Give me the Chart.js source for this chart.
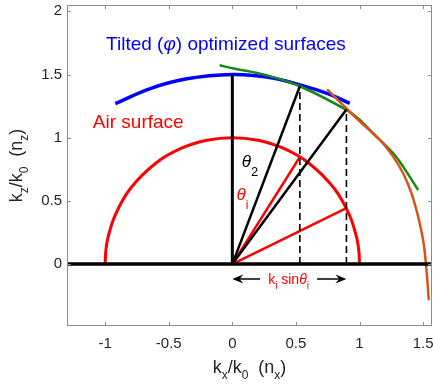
<!DOCTYPE html>
<html>
<head>
<meta charset="utf-8">
<script src="https://cdn.jsdelivr.net/npm/chart.js@4"></script>
<style>
  html, body { margin: 0; padding: 0; background: #fff; }
  #wrap { width: 433px; height: 384px; }
</style>
</head>
<body>
<div id="wrap"><canvas id="c"></canvas></div>
<script>
// Axis limits and tick values
const xMin = -1.3, xMax = 1.57;
const yMin = -0.49, yMax = 2.05;
const xTicks = [-1, -0.5, 0, 0.5, 1, 1.5];
const yTicks = [0, 0.5, 1, 1.5, 2];

// Air surface: unit half-circle
const airX = [-1, -0.995, -0.98, -0.92, -0.8, -0.6, -0.4, -0.2, 0, 0.2, 0.4, 0.6, 0.8, 0.92, 0.98, 0.995, 1];
const airY = [0, 0.1, 0.2, 0.39, 0.6, 0.8, 0.917, 0.98, 1, 0.98, 0.917, 0.8, 0.6, 0.39, 0.2, 0.1, 0];

// Tilted optimized surfaces
const blueX = [-0.92, -0.645, -0.358, 0, 0.27, 0.531, 0.75, 0.923];
const blueY = [1.27, 1.389, 1.466, 1.5, 1.48, 1.418, 1.348, 1.272];
const greenX = [-0.1, 0, 0.27, 0.531, 0.897, 1.003, 1.106, 1.265, 1.343, 1.461];
const greenY = [1.573, 1.55, 1.494, 1.407, 1.22, 1.14, 1.035, 0.877, 0.771, 0.586];
const orangeX = [0.745, 0.897, 1.003, 1.16, 1.265, 1.343, 1.409, 1.461, 1.5, 1.522, 1.545];
const orangeY = [1.383, 1.231, 1.128, 0.983, 0.85, 0.719, 0.56, 0.375, 0.19, 0.005, -0.285];

// Transmitted rays (black) and incident rays (red), both starting at the origin
const rayX = [0.531, 0.897];
const transY = [1.407, 1.223];
const incY = [0.847, 0.442];
const normalTop = 1.5;

const pts = (xs, ys) => xs.map((x, i) => ({ x, y: ys[i] }));
const seg = (x0, y0, x1, y1) => [{ x: x0, y: y0 }, { x: x1, y: y1 }];

const line = (data, color, width, extra) => Object.assign({
  data, borderColor: color, borderWidth: width, pointRadius: 0,
  showLine: true, fill: false, tension: 0
}, extra || {});

const datasets = [
  line(seg(xMin, 0, xMax, 0), '#000', 3.5, { order: 0 }),
  line(seg(0, 0, 0, normalTop), '#000', 3, { order: 1 }),
  line(seg(0, 0, rayX[0], transY[0]), '#000', 2.5, { order: 2 }),
  line(seg(0, 0, rayX[1], transY[1]), '#000', 2.5, { order: 2 }),
  line(seg(rayX[0], 0, rayX[0], transY[0]), '#000', 1.6, { order: 3, borderDash: [7, 4] }),
  line(seg(rayX[1], 0, rayX[1], transY[1]), '#000', 1.6, { order: 3, borderDash: [7, 4] }),
  line(seg(0, 0, rayX[0], incY[0]), '#ff0000', 2.5, { order: 4 }),
  line(seg(0, 0, rayX[1], incY[1]), '#ff0000', 2.5, { order: 4 }),
  line(pts(orangeX, orangeY), '#d95319', 2.5, { order: 5, tension: 0.4 }),
  line(pts(greenX, greenY), '#138a13', 2.5, { order: 6, tension: 0.4 }),
  line(pts(blueX, blueY), '#0000ff', 3.5, { order: 7, tension: 0.4 }),
  line(pts(airX, airY), '#ff0000', 3, { order: 8, tension: 0.4 })
];

// Draw a sequence of text runs (font/colour/vertical offset) starting at x
function runsWidth(ctx, runs) {
  let w = 0;
  for (const r of runs) { ctx.font = r.font; w += ctx.measureText(r.t).width; }
  return w;
}
function drawRuns(ctx, x, y, runs, align) {
  if (align === 'center') x -= runsWidth(ctx, runs) / 2;
  ctx.textBaseline = 'alphabetic';
  ctx.textAlign = 'left';
  for (const r of runs) {
    ctx.font = r.font;
    ctx.fillStyle = r.color;
    ctx.fillText(r.t, x, y + (r.dy || 0));
    x += ctx.measureText(r.t).width;
  }
}
function arrow(ctx, x0, y0, x1, y1) {
  const ang = Math.atan2(y1 - y0, x1 - x0), L = 11, H = 4.5;
  ctx.strokeStyle = '#000'; ctx.fillStyle = '#000'; ctx.lineWidth = 1.5;
  ctx.beginPath(); ctx.moveTo(x0, y0); ctx.lineTo(x1 - L * 0.6 * Math.cos(ang), y1 - L * 0.6 * Math.sin(ang)); ctx.stroke();
  ctx.save(); ctx.translate(x1, y1); ctx.rotate(ang);
  ctx.beginPath(); ctx.moveTo(0, 0); ctx.lineTo(-L, -H); ctx.lineTo(-L * 0.65, 0); ctx.lineTo(-L, H); ctx.closePath(); ctx.fill();
  ctx.restore();
}

const F = 'Liberation Sans, Arial, sans-serif';
const decorations = {
  id: 'decorations',
  afterDraw(chart) {
    const { ctx, chartArea: a, scales: { x, y } } = chart;
    const px = v => x.getPixelForValue(v), py = v => y.getPixelForValue(v);
    ctx.save();

    // axes box with inward ticks on all sides
    ctx.strokeStyle = '#8c8c8c'; ctx.lineWidth = 1;
    ctx.strokeRect(a.left + 0.5, a.top + 0.5, a.right - a.left - 1, a.bottom - a.top - 1);
    ctx.beginPath();
    for (const v of xTicks) {
      const p = Math.round(px(v)) + 0.5;
      ctx.moveTo(p, a.bottom); ctx.lineTo(p, a.bottom - 4);
      ctx.moveTo(p, a.top); ctx.lineTo(p, a.top + 4);
    }
    for (const v of yTicks) {
      const p = Math.round(py(v)) + 0.5;
      ctx.moveTo(a.left, p); ctx.lineTo(a.left + 4, p);
      ctx.moveTo(a.right, p); ctx.lineTo(a.right - 4, p);
    }
    ctx.stroke();

    // annotations
    drawRuns(ctx, px(-0.993), py(1.694), [
      { t: 'Tilted (', font: `19px ${F}`, color: '#0000ff' },
      { t: 'φ', font: `italic 19px ${F}`, color: '#0000ff' },
      { t: ') optimized surfaces', font: `19px ${F}`, color: '#0000ff' }
    ]);
    drawRuns(ctx, px(-1.097), py(1.074), [
      { t: 'Air surface', font: `19px ${F}`, color: '#ff0000' }
    ]);
    drawRuns(ctx, px(0.074), py(0.772), [
      { t: 'θ', font: `italic 17px ${F}`, color: '#000' },
      { t: '2', font: `13px ${F}`, color: '#000', dy: 9 }
    ]);
    drawRuns(ctx, px(0.033), py(0.507), [
      { t: 'θ', font: `italic 17px ${F}`, color: '#ff0000' },
      { t: 'i', font: `12px ${F}`, color: '#ff0000', dy: 9 }
    ]);
    const ay = py(-0.118);
    arrow(ctx, px(0.218), ay, px(0), ay);
    arrow(ctx, px(0.666), ay, px(rayX[1]), ay);
    drawRuns(ctx, (px(0.218) + px(0.666)) / 2, ay + 5, [
      { t: 'k', font: `14px ${F}`, color: '#ff0000' },
      { t: 'i', font: `10px ${F}`, color: '#ff0000', dy: 5 },
      { t: ' sin', font: `14px ${F}`, color: '#ff0000' },
      { t: 'θ', font: `italic 14px ${F}`, color: '#ff0000' },
      { t: 'i', font: `10px ${F}`, color: '#ff0000', dy: 5 }
    ], 'center');

    // axis titles
    const title = (a1, a2) => [
      { t: 'k', font: `18px ${F}`, color: '#262626' },
      { t: a1, font: `12px ${F}`, color: '#262626', dy: 6 },
      { t: '/k', font: `18px ${F}`, color: '#262626' },
      { t: '0', font: `12px ${F}`, color: '#262626', dy: 6 },
      { t: '  (n', font: `18px ${F}`, color: '#262626' },
      { t: a2, font: `12px ${F}`, color: '#262626', dy: 6 },
      { t: ')', font: `18px ${F}`, color: '#262626' }
    ];
    drawRuns(ctx, (a.left + a.right) / 2, 373, title('x', 'x'), 'center');
    ctx.translate(22, (a.top + a.bottom) / 2);
    ctx.rotate(-Math.PI / 2);
    drawRuns(ctx, 0, 0, title('z', 'z'), 'center');
    ctx.restore();
  }
};

new Chart(document.getElementById('c'), {
  type: 'scatter',
  data: { datasets },
  options: {
    responsive: true,
    maintainAspectRatio: false,
    devicePixelRatio: 1,
    animation: false,
    layout: { padding: { top: 5, right: 1, left: 0, bottom: 0 } },
    plugins: { legend: { display: false }, tooltip: { enabled: false } },
    scales: {
      x: {
        type: 'linear', min: xMin, max: xMax,
        grid: { display: false, drawTicks: false },
        border: { display: false },
        afterBuildTicks: s => { s.ticks = xTicks.map(v => ({ value: v })); },
        afterFit: s => { s.height = 58; s.paddingLeft = 0; s.paddingRight = 0; },
        ticks: { padding: 9, color: '#262626', font: { family: F, size: 15 }, callback: v => String(v) }
      },
      y: {
        type: 'linear', min: yMin, max: yMax,
        grid: { display: false, drawTicks: false },
        border: { display: false },
        afterBuildTicks: s => { s.ticks = yTicks.map(v => ({ value: v })); },
        afterFit: s => { s.width = 67; s.paddingTop = 0; s.paddingBottom = 0; },
        ticks: { padding: 5, color: '#262626', font: { family: F, size: 15 }, callback: v => String(v) }
      }
    }
  },
  plugins: [decorations]
});
</script>
</body>
</html>
